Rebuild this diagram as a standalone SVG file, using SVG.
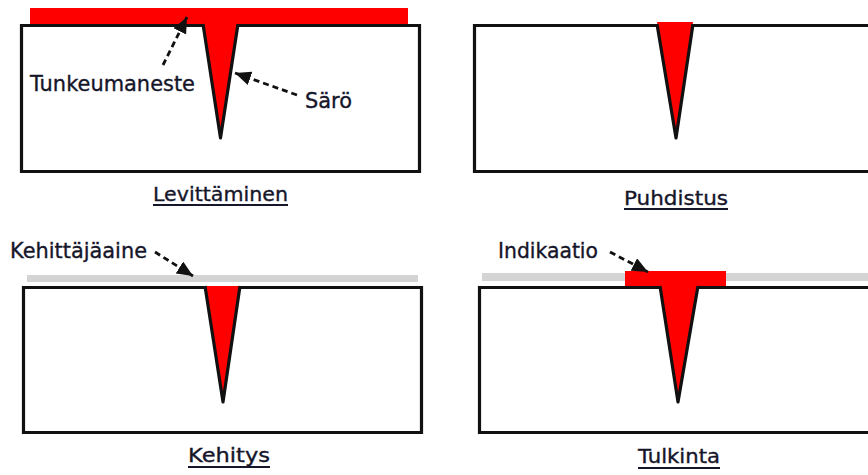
<svg xmlns="http://www.w3.org/2000/svg" width="868" height="475" viewBox="0 0 868 475">
  <style>
    .box { fill: #ffffff; stroke: #111111; stroke-width: 3.2; stroke-linejoin: miter; }
    .edge { fill: none; stroke: #111111; stroke-width: 3.2; stroke-linejoin: round; stroke-linecap: butt; }
    .red { fill: #ff0000; }
    .dev { fill: #d4d4d4; }
    .label { font-family: "DejaVu Sans", "Liberation Sans", sans-serif; font-size: 20.5px; fill: #16162a; stroke: #16162a; stroke-width: 0.35; }
    .title { font-family: "DejaVu Sans", "Liberation Sans", sans-serif; font-size: 20px; fill: #16162a; stroke: #16162a; stroke-width: 0.35; }
    .uline { stroke: #16162a; stroke-width: 2; }
    .arrow { fill: none; stroke: #111111; stroke-width: 2.8; stroke-dasharray: 6 4; }
  </style>
  <defs>
    <marker id="head" markerUnits="userSpaceOnUse" markerWidth="16" markerHeight="14" refX="16" refY="7" orient="auto">
      <path d="M0,0 L16,7 L0,14 z" fill="#111111"/>
    </marker>
  </defs>

  <rect width="868" height="475" fill="#ffffff"/>

  <!-- 1: application of penetrant -->
  <g id="levittaminen">
    <rect class="red" x="30" y="8" width="378" height="17"/>
    <path class="box" d="M203,25.5 H21.5 V171.5 H419.5 V25.5 H238"/>
    <polygon class="red" points="203,24 238,24 220.5,136"/>
    <path class="edge" d="M203,24 L220.5,138 L238,24"/>
    <text class="label" x="30" y="91" textLength="165" lengthAdjust="spacingAndGlyphs">Tunkeumaneste</text>
    <text class="label" x="305" y="108" textLength="47" lengthAdjust="spacingAndGlyphs">Särö</text>
    <text class="title" x="153" y="201" textLength="135" lengthAdjust="spacingAndGlyphs">Levittäminen</text>
    <line class="uline" x1="153" y1="205" x2="288" y2="205"/>
  </g>

  <!-- 2: removal of excess penetrant -->
  <g id="puhdistus">
    <path class="box" d="M657,25.5 H474.5 V171.5 H872 M872,25.5 H693"/>
    <polygon class="red" points="657,22 693,22 676,136"/>
    <path class="edge" d="M657,24 L676,138 L693,24"/>
    <text class="title" x="624" y="205" textLength="104" lengthAdjust="spacingAndGlyphs">Puhdistus</text>
    <line class="uline" x1="624" y1="209" x2="728" y2="209"/>
  </g>

  <!-- 3: developer -->
  <g id="kehitys">
    <rect class="dev" x="27" y="275" width="391" height="7"/>
    <path class="box" d="M205,287.5 H23.5 V432.5 H421.5 V287.5 H240"/>
    <polygon class="red" points="205,286 240,286 223,400"/>
    <path class="edge" d="M205,286 L223,402 L240,286"/>
    <text class="label" x="10" y="258" textLength="137" lengthAdjust="spacingAndGlyphs">Kehittäjäaine</text>
    <text class="title" x="188" y="462" textLength="82" lengthAdjust="spacingAndGlyphs">Kehitys</text>
    <line class="uline" x1="188" y1="467" x2="270" y2="467"/>
  </g>

  <!-- 4: interpretation -->
  <g id="tulkinta">
    <rect class="dev" x="482" y="273" width="390" height="8"/>
    <rect class="red" x="625" y="271" width="101" height="16"/>
    <path class="box" d="M660,287.5 H479.5 V432.5 H872 M872,287.5 H698"/>
    <polygon class="red" points="660,286 698,286 678,400"/>
    <path class="edge" d="M660,286 L678,402 L698,286"/>
    <text class="label" x="498" y="258" textLength="100" lengthAdjust="spacingAndGlyphs">Indikaatio</text>
    <text class="title" x="638" y="463" textLength="82" lengthAdjust="spacingAndGlyphs">Tulkinta</text>
    <line class="uline" x1="638" y1="468" x2="720" y2="468"/>
  </g>

  <!-- dashed pointers from labels -->
  <g id="connectors">
    <path class="arrow" d="M163,65 L187,17" marker-end="url(#head)"/>
    <path class="arrow" d="M297,95 L235,73" marker-end="url(#head)"/>
    <path class="arrow" d="M155,252 L193,276" marker-end="url(#head)"/>
    <path class="arrow" d="M610,252 L648,272" marker-end="url(#head)"/>
  </g>
</svg>
